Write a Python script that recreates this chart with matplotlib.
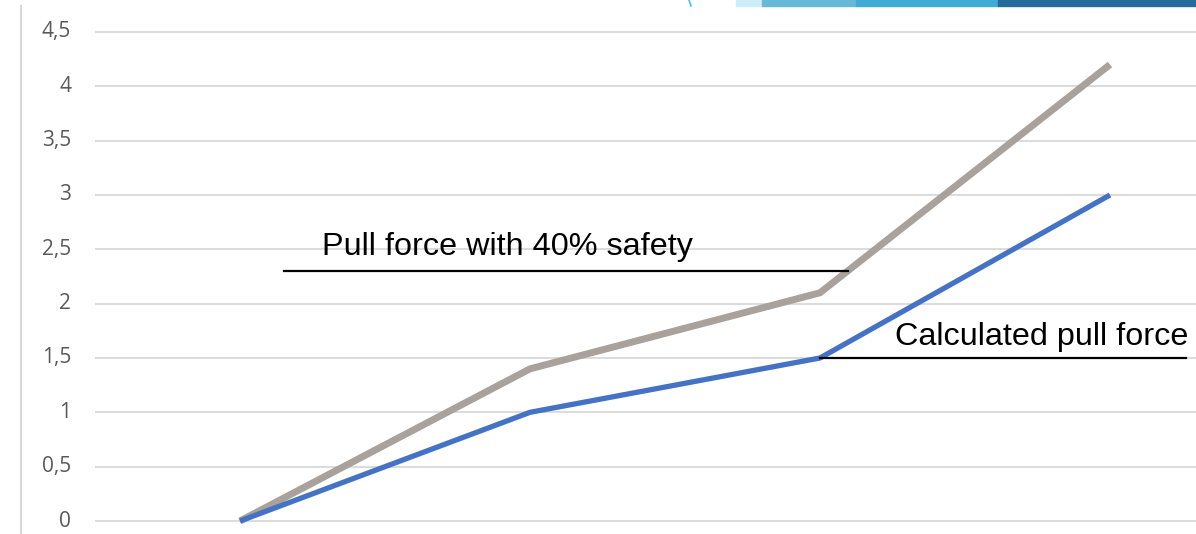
import numpy as np
import matplotlib
matplotlib.use("Agg")
import matplotlib.pyplot as plt
from matplotlib.patches import Rectangle

# data
categories = [0, 1, 2, 3]
calculated = [0, 1.0, 1.5, 3.0]
with_safety = [0, 1.4, 2.1, 4.2]
yticks = [0, 0.5, 1, 1.5, 2, 2.5, 3, 3.5, 4, 4.5]
ytick_labels = ["0", "0,5", "1", "1,5", "2", "2,5", "3", "3,5", "4", "4,5"]

plt.rcParams['font.family'] = ['Liberation Sans', 'DejaVu Sans']

fig = plt.figure(figsize=(11.96, 5.34), dpi=100)
ax = fig.add_axes([0, 0, 1, 1])
ax.set_xlim(-0.8276, 3.2966)
ax.set_ylim(-0.1196, 4.794)
ax.axis("off")

# gridlines + tick labels
ax.hlines(yticks, -0.5, 3.3, color="#d9d9d9", lw=1.3, zorder=1)
for v, lab in zip(yticks, ytick_labels):
    ax.text(-0.582, v, lab, ha="right", va="center", fontsize=15,
            color="#595959", family="Open Sans")

# left border line
ax.plot([-0.755, -0.755], [-0.2, 4.74], color="#d9d9d9", lw=1.5)

# series
ax.plot(categories, with_safety, color="#a8a19c", lw=5, solid_capstyle="butt", zorder=3)
ax.plot(categories, calculated, color="#4472c4", lw=3.8, solid_capstyle="butt", zorder=4)

# annotations
ax.plot([0.152, 2.097], [2.30, 2.30], color="black", lw=1.6, zorder=5)
ax.text(0.283, 2.45, "Pull force with 40% safety", fontsize=23.3, ha="left", va="baseline")
ax.plot([categories[2], 3.262], [calculated[2], calculated[2]], color="black", lw=1.6, zorder=5)
ax.text(2.259, 1.615, "Calculated pull force", fontsize=23.3, ha="left", va="baseline")

# slide decoration at top right
strips = [(736, 762, "#cdeef8"), (762, 856, "#68b9d8"), (856, 998, "#40acd6"), (998, 1196, "#246b9b")]
for x0, x1, c in strips:
    fig.patches.append(Rectangle((x0 / 1196, 1 - 6 / 534), (x1 - x0) / 1196, 6 / 534,
                                 transform=fig.transFigure, color=c, zorder=10))
fig.lines.append(plt.Line2D([689 / 1196, 691 / 1196], [1, 1 - 6 / 534],
                            transform=fig.transFigure, color="#3fc4f0", lw=1.2))

fig.savefig("out.png", dpi=100)
